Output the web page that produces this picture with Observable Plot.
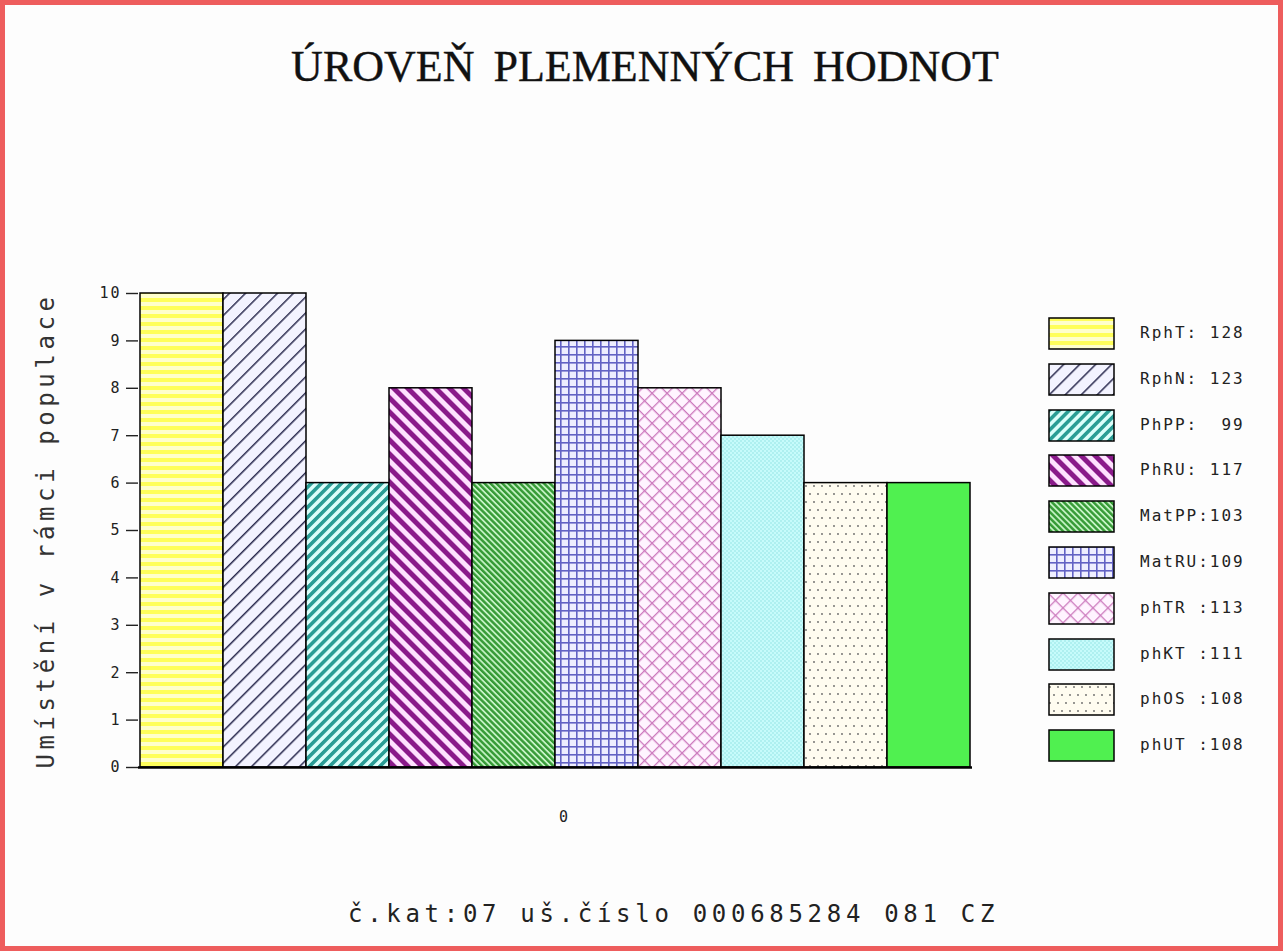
<!DOCTYPE html>
<html>
<head>
<meta charset="utf-8">
<script src="https://cdn.jsdelivr.net/npm/d3@7"></script>
<script src="https://cdn.jsdelivr.net/npm/@observablehq/plot@0.6"></script>
<style>
  html, body { margin: 0; padding: 0; background: #fdfdfd; }
  #page { position: relative; width: 1283px; height: 951px; overflow: hidden; background: #fdfdfd; }
  #border { position: absolute; left: 0; top: 0; width: 1283px; height: 951px; box-sizing: border-box; border: 5px solid #ee5d5d; pointer-events: none; }
  #title { position: absolute; left: 0; top: 45px; width: 1290px; text-align: center; font-family: "Liberation Serif", serif; font-size: 44px; line-height: 44px; color: #111; word-spacing: 8px; -webkit-text-stroke: 0.4px #111; }
  #chart { position: absolute; left: 0; top: 250px; }
  #caption { position: absolute; left: 348px; top: 899px; font-family: "DejaVu Sans Mono", monospace; font-size: 24px; line-height: 30px; letter-spacing: 4.7px; color: #222; white-space: pre; }
  #legend { position: absolute; left: 1048px; top: 317px; }
  .lrow { position: absolute; left: 0; height: 34px; width: 230px; }
  .lrow svg { position: absolute; left: 0; top: 0; }
  .lrow span { position: absolute; left: 92px; top: 6px; font-family: "DejaVu Sans Mono", monospace; font-size: 16px; letter-spacing: 2px; color: #222; white-space: pre; line-height: 20px; }
  #chart svg g[aria-label="y-axis label"] { font-family: "DejaVu Sans Mono", monospace; font-size: 24px; letter-spacing: 4.6px; fill: #333; }
  #chart svg g[aria-label="y-axis tick label"] { font-size: 15px; letter-spacing: 2px; fill: #222; }
  #chart svg g[aria-label="fx-axis tick label"] { font-size: 15px; fill: #222; }
</style>
</head>
<body>
<div id="page">
  <svg id="defs" width="0" height="0" style="position:absolute;left:0;top:0">
    <defs>
      <pattern id="p0" patternUnits="userSpaceOnUse" width="8" height="8">
        <rect width="8" height="8" fill="#ffffcc"/>
        <rect y="0" width="8" height="4" fill="#ffff5a"/>
      </pattern>
      <pattern id="p1" patternUnits="userSpaceOnUse" width="11.3" height="10" patternTransform="rotate(45)">
        <rect width="11.3" height="10" fill="#f3f3ff"/>
        <rect x="0" width="1.5" height="10" fill="#2c2c50"/>
      </pattern>
      <pattern id="p2" patternUnits="userSpaceOnUse" width="7.1" height="10" patternTransform="rotate(45)">
        <rect width="7.1" height="10" fill="#dcfffb"/>
        <rect x="0" width="3.6" height="10" fill="#2a9d95"/>
      </pattern>
      <pattern id="p3" patternUnits="userSpaceOnUse" width="9.9" height="10" patternTransform="rotate(-45)">
        <rect width="9.9" height="10" fill="#ffe2ff"/>
        <rect x="0" width="5" height="10" fill="#8a1a8a"/>
      </pattern>
      <pattern id="p4" patternUnits="userSpaceOnUse" width="4.2" height="10" patternTransform="rotate(-45)">
        <rect width="4.2" height="10" fill="#c4f2c4"/>
        <rect x="0" width="2.4" height="10" fill="#359a35"/>
      </pattern>
      <pattern id="p5" patternUnits="userSpaceOnUse" width="8" height="8">
        <rect width="8" height="8" fill="#eeeeff"/>
        <rect x="0" width="1.6" height="8" fill="#6262c4"/>
        <rect y="0" width="8" height="1.6" fill="#6262c4"/>
      </pattern>
      <pattern id="p6" patternUnits="userSpaceOnUse" width="10.6" height="10.6" patternTransform="rotate(45)">
        <rect width="10.6" height="10.6" fill="#fff4ff"/>
        <rect x="0" width="1.3" height="10.6" fill="#cc7abd"/>
        <rect y="0" width="10.6" height="1.3" fill="#cc7abd"/>
      </pattern>
      <pattern id="p7" patternUnits="userSpaceOnUse" width="4" height="4">
        <rect width="4" height="4" fill="#aef0f0"/>
        <rect x="0" y="0" width="2" height="2" fill="#c6fbfb"/>
        <rect x="2" y="2" width="2" height="2" fill="#c6fbfb"/>
      </pattern>
      <pattern id="p8" patternUnits="userSpaceOnUse" width="8" height="16">
        <rect width="8" height="16" fill="#fffcf0"/>
        <circle cx="2" cy="4" r="0.9" fill="#666"/>
        <circle cx="6" cy="12" r="0.9" fill="#666"/>
      </pattern>
      <pattern id="p9" patternUnits="userSpaceOnUse" width="4" height="4">
        <rect width="4" height="4" fill="#50f050"/>
      </pattern>
    </defs>
  </svg>
  <div id="title">ÚROVEŇ PLEMENNÝCH HODNOT</div>
  <div id="chart"></div>
  <div id="legend"></div>
  <div id="caption">č.kat:07 uš.číslo 000685284 081 CZ</div>
  <div id="border"></div>
</div>
<script>
// ---- data ----
const traits = ["RphT", "RphN", "PhPP", "PhRU", "MatPP", "MatRU", "phTR", "phKT", "phOS", "phUT"];
const ranks = [10, 10, 6, 8, 6, 9, 8, 7, 6, 6];
const breedingValues = [128, 123, 99, 117, 103, 109, 113, 111, 108, 108];
const legendLabels = ["RphT: 128", "RphN: 123", "PhPP:  99", "PhRU: 117", "MatPP:103", "MatRU:109", "phTR :113", "phKT :111", "phOS :108", "phUT :108"];
const patternIds = ["p0", "p1", "p2", "p3", "p4", "p5", "p6", "p7", "p8", "p9"];
const groupLabel = "0";
const yTicks = [0, 1, 2, 3, 4, 5, 6, 7, 8, 9, 10];
const yLabel = "Umístění v rámci populace";

const data = traits.map((t, i) => ({trait: t, rank: ranks[i], value: breedingValues[i], group: groupLabel}));

const chart = Plot.plot({
  width: 1283,
  height: 600,
  marginTop: 43,
  marginBottom: 83,
  marginLeft: 138,
  marginRight: 311,
  style: {background: "transparent", fontFamily: "DejaVu Sans Mono, monospace", fontSize: "15px", color: "#222"},
  fx: {domain: [groupLabel], padding: 0, label: null},
  x: {domain: traits, padding: 0, axis: null},
  y: {domain: [0, 10], label: null},
  color: {domain: traits, range: patternIds.map(p => `url(#${p})`)},
  marks: [
    Plot.barY(data, {fx: "group", x: "trait", y: "rank", fill: "trait", stroke: "#000", strokeWidth: 1.5}),
    Plot.ruleY([0], {stroke: "#000", strokeWidth: 2.5}),
    Plot.axisY({ticks: yTicks, tickSize: 12, tickPadding: 5, tickFormat: d => String(d), strokeWidth: 1.4,
      label: yLabel, labelAnchor: "center", labelArrow: "none", labelOffset: 102}),
    Plot.axisFx({anchor: "bottom", tickSize: 0, tickPadding: 44, label: null, dx: 8})
  ]
});
document.getElementById("chart").appendChild(chart);

// legend
const legend = document.getElementById("legend");
traits.forEach((t, i) => {
  const row = document.createElement("div");
  row.className = "lrow";
  row.style.top = (i * 45.8) + "px";
  row.innerHTML = `<svg width="68" height="34"><rect x="1" y="1" width="65" height="31" fill="url(#${patternIds[i]})" stroke="#000" stroke-width="1.5"/></svg><span>${legendLabels[i]}</span>`;
  legend.appendChild(row);
});
</script>
</body>
</html>
